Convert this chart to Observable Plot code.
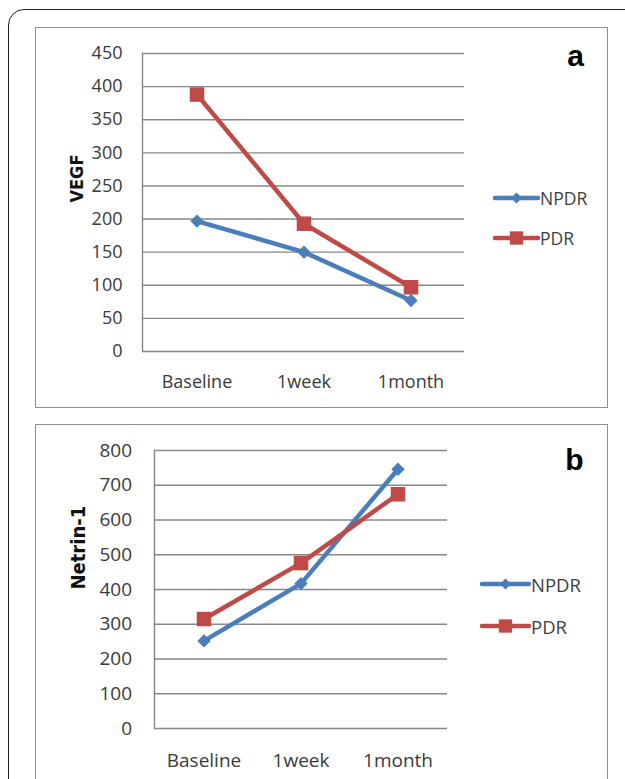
<!DOCTYPE html>
<html>
<head>
<meta charset="utf-8">
<script src="https://cdn.jsdelivr.net/npm/d3@7"></script>
<script src="https://cdn.jsdelivr.net/npm/@observablehq/plot@0.6"></script>
<style>
  html, body { margin: 0; padding: 0; background: #fff; width: 625px; height: 779px; overflow: hidden; }
  #outer { position: absolute; left: 8px; top: 9px; width: 800px; height: 900px; border: 1.6px solid #1e1e1e; border-radius: 16px; }
  .box { position: absolute; border: 1.5px solid #8f8f8f; box-sizing: border-box; pointer-events: none; }
  .panel { position: absolute; }
  .legend { position: absolute; font-family: "Open Sans", sans-serif; color: #404040; }
  .legend .item { position: absolute; white-space: nowrap; display: flex; align-items: center; }
</style>
</head>
<body>
<div id="outer"></div>
<div id="panelA" class="panel" style="left:35px; top:27px;"></div>
<div class="box" style="left:35px; top:27px; width:573px; height:381px;"></div>
<div id="panelB" class="panel" style="left:35px; top:424px;"></div>
<div class="box" style="left:35px; top:424px; width:573px; height:420px;"></div>
<div id="legendA" class="legend"></div>
<div id="legendB" class="legend"></div>
<script>
// ---- data ----
const categories = ["Baseline", "1week", "1month"];
const seriesNames = ["NPDR", "PDR"];
const seriesColors = ["#4a7ebb", "#be4b48"];
const seriesSymbols = ["diamond2", "square"];
const vegfNPDR = [197, 150, 77];
const vegfPDR = [388, 193, 97];
const netrinNPDR = [252, 417, 746];
const netrinPDR = [315, 476, 674];
const vegfTicks = [0, 50, 100, 150, 200, 250, 300, 350, 400, 450];
const netrinTicks = [0, 100, 200, 300, 400, 500, 600, 700, 800];

function rows(a, b) {
  const out = [];
  [a, b].forEach((vals, s) => vals.forEach((v, i) => out.push({cat: categories[i], value: v, series: seriesNames[s]})));
  return out;
}

const tickFont = '"Open Sans", "Noto Sans", sans-serif';
const titleFont = '"Liberation Sans Narrow", "DejaVu Sans Condensed", "Open Sans", sans-serif';

function panel({data, ticks, ymax, title, letter, o}) {
  return Plot.plot({
    width: 572,
    height: o.height,
    marginLeft: o.ml,
    marginRight: o.mr,
    marginTop: o.mt,
    marginBottom: o.mb,
    style: {fontFamily: tickFont, fontSize: o.fs + "px", color: "#3a3a3a", background: "transparent", overflow: "visible"},
    x: {type: "band", domain: categories, padding: 0, label: null},
    y: {domain: [0, ymax], label: null},
    color: {domain: seriesNames, range: seriesColors},
    symbol: {domain: seriesNames, range: seriesSymbols},
    marks: [
      Plot.gridY(ticks, {stroke: "#878787", strokeOpacity: 1, strokeWidth: 1.4}),
      Plot.frame({anchor: "left", stroke: "#878787", strokeWidth: 1.4}),
      Plot.axisY(ticks, {tickSize: 0, tickPadding: o.ypad, fontSize: o.fs, label: null, fill: "#3a3a3a"}),
      Plot.axisX({tickSize: 0, tickPadding: o.xpad, fontSize: o.fs, label: null, fill: "#3a3a3a"}),
      Plot.line(data, {x: "cat", y: "value", z: "series", stroke: "series", strokeWidth: 4.5, strokeLinejoin: "round"}),
      Plot.dot(data.filter(d => d.series === "NPDR"), {x: "cat", y: "value", symbol: "series", fill: "series", stroke: null, r: 6}),
      Plot.dot(data.filter(d => d.series === "PDR"), {x: "cat", y: "value", symbol: "series", fill: "series", stroke: null, r: 8.2}),
      Plot.text([title], {frameAnchor: "left", rotate: -90, dx: o.tdx, fontFamily: titleFont, fontWeight: "bold", fontSize: o.tfs, fill: "#111", lineAnchor: "middle"}),
      Plot.text([letter], {frameAnchor: "top-right", dx: o.ldx, dy: o.ldy, fontFamily: '"Liberation Sans", Arial, sans-serif', fontWeight: "bold", fontSize: 30, fill: "#000", lineAnchor: "middle", textAnchor: "middle"})
    ]
  });
}

document.getElementById("panelA").appendChild(panel({
  data: rows(vegfNPDR, vegfPDR), ticks: vegfTicks, ymax: 450, title: "VEGF", letter: "a",
  o: {height: 380, ml: 107, mr: 143, mt: 26, mb: 56, fs: 18, ypad: 20, xpad: 24, tdx: -65, tfs: 18, ldx: 111, ldy: 3}
}));
document.getElementById("panelB").appendChild(panel({
  data: rows(netrinNPDR, netrinPDR), ticks: netrinTicks, ymax: 800, title: "Netrin-1", letter: "b",
  o: {height: 360, ml: 119, mr: 160, mt: 26, mb: 56, fs: 19, ypad: 22.5, xpad: 24.5, tdx: -76, tfs: 20, ldx: 127, ldy: 9.5}
}));

// ---- legends ----
function legend(id, items, {x, ys, lineW, fs}) {
  const el = document.getElementById(id);
  items.forEach((name, i) => {
    const it = document.createElement("div");
    it.className = "item";
    it.style.left = x + "px";
    it.style.top = (ys[i] - 12) + "px";
    it.style.height = "24px";
    it.style.fontSize = fs + "px";
    const svg = d3.create("svg").attr("width", lineW).attr("height", 24).style("overflow", "visible");
    svg.append("line").attr("x1", 0).attr("x2", lineW).attr("y1", 12).attr("y2", 12)
      .attr("stroke", seriesColors[i]).attr("stroke-width", 4.5).attr("stroke-linecap", "round");
    const sym = i === 0 ? d3.symbolDiamond2 : d3.symbolSquare;
    const size = i === 0 ? Math.PI * 5 * 5 : Math.PI * 7.5 * 7.5;
    svg.append("path").attr("transform", `translate(${lineW / 2},12)`).attr("d", d3.symbol(sym, size)()).attr("fill", seriesColors[i]);
    it.appendChild(svg.node());
    const t = document.createElement("span");
    t.textContent = name;
    t.style.marginLeft = "2px";
    it.appendChild(t);
    el.appendChild(it);
  });
}
legend("legendA", seriesNames, {x: 495, ys: [198, 238], lineW: 43, fs: 17.5});
legend("legendB", seriesNames, {x: 482, ys: [584, 626], lineW: 47, fs: 18.5});
</script>
</body>
</html>
